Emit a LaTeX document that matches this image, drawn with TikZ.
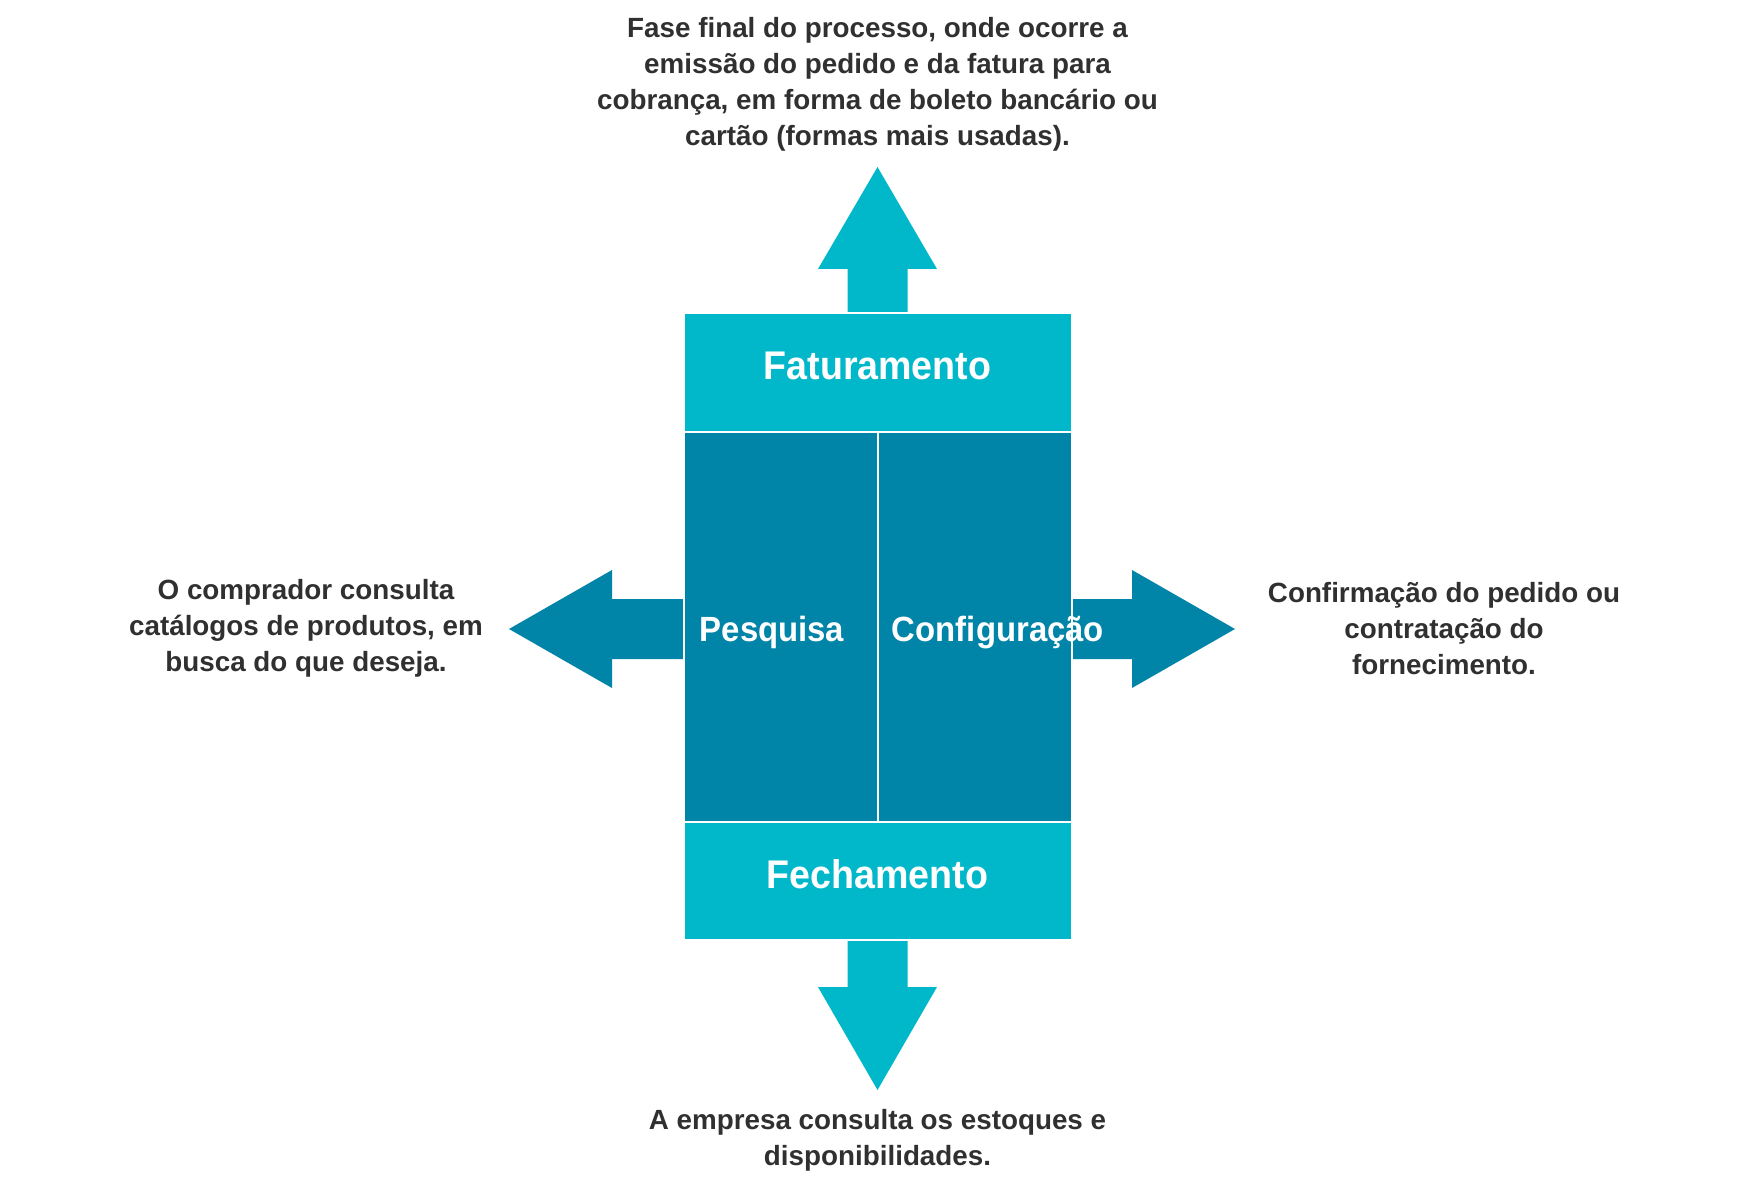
\documentclass[tikz,border=0pt]{standalone}
\usepackage{fontspec}
\setmainfont{Liberation Sans}
\newfontfamily\titlefont{Liberation Sans}[FakeStretch=0.94]
\definecolor{lightteal}{RGB}{0,184,201}
\definecolor{darkteal}{RGB}{0,132,168}
\definecolor{bodytext}{RGB}{48,48,48}
\tikzset{
  panel/.style={inner sep=0pt, outer sep=0pt, draw=white, line width=1pt},
  headpanel/.style={panel, fill=lightteal},
  sidepanel/.style={panel, fill=darkteal},
  bigtitle/.style={text=white, font=\titlefont\bfseries\fontsize{20}{24}\selectfont},
  midtitle/.style={text=white, font=\titlefont\bfseries\fontsize{17.5}{21}\selectfont},
  note/.style={text=bodytext, align=center, font=\bfseries\fontsize{13.9}{18}\selectfont},
}
\begin{document}
\begin{tikzpicture}[x=0.5pt,y=-0.5pt]
\useasboundingbox (0,0) rectangle (1750,1192);

% arrows (behind the panels)
\fill[lightteal] (847.5,320) -- (847.5,269) -- (818,269) -- (877.5,167)
  -- (937,269) -- (907.5,269) -- (907.5,320) -- cycle;
\fill[lightteal] (847.5,930) -- (847.5,987) -- (818,987) -- (877.5,1090)
  -- (937,987) -- (907.5,987) -- (907.5,930) -- cycle;
\fill[darkteal] (690,599) -- (612,599) -- (612,570) -- (509,629)
  -- (612,688) -- (612,659) -- (690,659) -- cycle;
\fill[darkteal] (1065,599) -- (1132,599) -- (1132,570) -- (1235,629)
  -- (1132,688) -- (1132,659) -- (1065,659) -- cycle;

% central panels
\node[headpanel, minimum width=194pt, minimum height=59pt, anchor=north west] (fat) at (683.5,313.5) {};
\node[sidepanel, minimum width=97pt, minimum height=195pt, anchor=north west] (pes) at (683.5,431.5) {};
\node[sidepanel, minimum width=97pt, minimum height=195pt, anchor=north west] (conf) at (877.5,431.5) {};
\node[headpanel, minimum width=194pt, minimum height=59pt, anchor=north west] (fech) at (683.5,821.5) {};

% titles
\node[bigtitle] (tfat) at (877.5,366) {Faturamento};
\node[bigtitle] (tfech) at (877.5,874) {Fechamento};
\node[midtitle] (tpes) at (772,632.5) {Pesquisa};
\node[midtitle] (tconf) at (998,632.5) {Configuração};

% descriptions
\node[note] (dtop) at (877.5,84) {Fase final do processo, onde ocorre a\\emissão do pedido e da fatura para\\cobrança, em forma de boleto bancário ou\\cartão (formas mais usadas).};
\node[note] (dleft) at (306,628) {O comprador consulta\\catálogos de produtos, em\\busca do que deseja.};
\node[note] (dright) at (1444,629) {Confirmação do pedido ou\\contratação do\\fornecimento.};
\node[note] (dbot) at (877.5,1140) {A empresa consulta os estoques e\\disponibilidades.};
\end{tikzpicture}
\end{document}
